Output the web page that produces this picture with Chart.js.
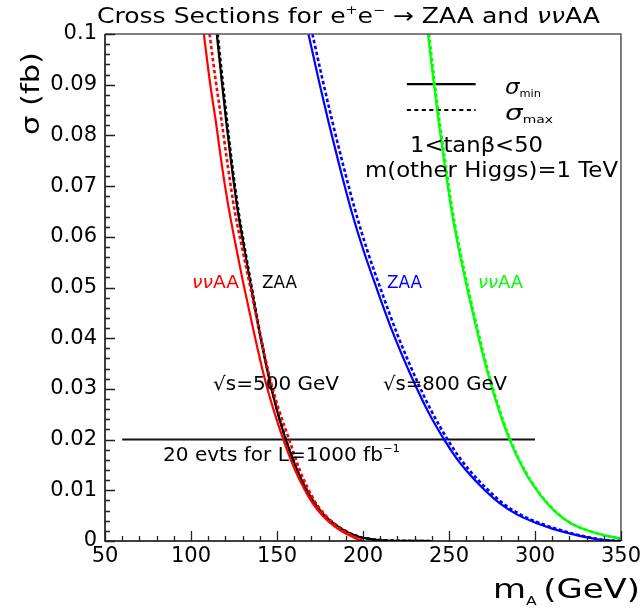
<!DOCTYPE html>
<html><head><meta charset="utf-8">
<script src="https://cdn.jsdelivr.net/npm/chart.js@4.4.0/dist/chart.umd.min.js"></script>
<style>html,body{margin:0;padding:0;background:#fff;overflow:hidden}</style>
</head><body>
<canvas id="c" width="644" height="614"></canvas>
<script>
// ---- data (m_A in GeV, sigma in fb) ----
// sqrt(s)=500 GeV
const sigmaGrid500 = [0.100, 0.091, 0.0826, 0.074, 0.0653, 0.058, 0.0515, 0.043, 0.0328, 0.026, 0.0199, 0.014, 0.0105, 0.0074, 0.0052, 0.0035, 0.0019, 0.0008, 0.0];
const massNuNu500Min = [107.5, 110.8, 114.5, 118.0, 122.1, 126.2, 130.0, 135.4, 142.3, 147.9, 153.8, 160.5, 165.5, 170.8, 175.9, 181.1, 187.6, 194.0, 199.6];
const massNuNu500Max = [110.8, 114.3, 117.9, 121.4, 125.3, 129.6, 133.6, 138.8, 145.4, 151.0, 157.2, 163.2, 167.8, 172.8, 177.8, 182.9, 189.1, 195.5, 200.0];
const sigmaZAA500 = [0.100, 0.091, 0.0826, 0.074, 0.0653, 0.058, 0.0515, 0.043, 0.0328, 0.026, 0.0199, 0.014, 0.0105, 0.0074, 0.0052, 0.0035, 0.0019, 0.00085, 0.0004, 0.00015, 0.00004, 0.0];
const massZAA500Min = [115.0, 117.8, 120.5, 123.6, 127.1, 130.8, 134.2, 138.8, 144.9, 149.8, 155.2, 161.7, 166.6, 172.0, 177.3, 182.9, 190.1, 197.5, 204.3, 212.0, 222.0, 240.0];
const massZAA500Max = [115.5, 118.3, 121.0, 124.0, 127.5, 131.1, 134.5, 139.0, 145.1, 150.0, 155.3, 161.8, 166.7, 172.1, 177.4, 183.0, 190.2, 197.6, 204.4, 212.0, 222.0, 240.0];
// sqrt(s)=800 GeV
const sigmaZAA800 = [0.100, 0.091, 0.0826, 0.074, 0.0653, 0.057, 0.0495, 0.041, 0.0318, 0.0255, 0.0199, 0.0165, 0.014, 0.0105, 0.0074, 0.0052, 0.0035, 0.0024, 0.0015, 0.0008, 0.0003, 0.0001, 0.0];
const massZAA800Min = [168.3, 174.2, 180.0, 186.3, 193.1, 200.6, 208.3, 217.5, 229.0, 237.9, 247.4, 254.0, 259.8, 269.4, 279.6, 289.7, 301.1, 310.5, 320.0, 328.8, 337.3, 344.0, 350.0];
const massZAA800Max = [170.6, 176.5, 182.3, 188.6, 195.4, 202.8, 210.5, 219.7, 231.1, 240.0, 249.4, 256.0, 261.8, 271.4, 281.5, 291.6, 303.0, 312.3, 321.6, 330.2, 338.4, 344.8, 350.0];
const sigmaNuNu800 = [0.100, 0.091, 0.0826, 0.074, 0.0653, 0.057, 0.0495, 0.041, 0.0337, 0.0255, 0.0199, 0.014, 0.0105, 0.0074, 0.0052, 0.0035, 0.0024, 0.0015, 0.0009, 0.0005];
const massNuNu800Min = [237.8, 240.9, 244.0, 247.6, 251.4, 256.0, 260.8, 266.6, 272.1, 279.3, 285.3, 293.5, 300.0, 307.1, 313.7, 320.7, 327.9, 336.0, 343.2, 350.0];
const massNuNu800Max = [238.4, 241.5, 244.6, 248.2, 252.0, 256.6, 261.4, 267.2, 272.6, 279.8, 285.8, 294.0, 300.4, 307.5, 314.0, 321.0, 328.1, 336.2, 343.3, 350.0];
// 20 events for L = 1000 fb^-1 line
const limitMass = [60, 300];
const limitSigma = [0.02, 0.02];
// legend key lines
const keyMass = [225.5, 265.5];
const keySolidSigma = [0.0901, 0.0901];
const keyDottedSigma = [0.0850, 0.0850];
// axis ticks
const xTickValues = [50, 100, 150, 200, 250, 300, 350];
const yTickValues = [0, 0.01, 0.02, 0.03, 0.04, 0.05, 0.06, 0.07, 0.08, 0.09, 0.1];

const pts = (xs, ys) => xs.map((x, i) => ({x, y: ys[i]}));
const RED = '#ff0000', BLACK = '#000000', BLUE = '#0000ff', GREEN = '#00ff00';
function curve(xs, ys, color, dotted) {
  return {
    data: pts(xs, ys), showLine: true, borderColor: color, backgroundColor: color,
    borderWidth: dotted ? 2.6 : 2.2, borderDash: dotted ? [3.5, 2.5] : [],
    pointRadius: 0, cubicInterpolationMode: 'monotone', fill: false
  };
}
const datasets = [
  curve(massZAA800Max, sigmaZAA800, BLUE, true),
  curve(massZAA800Min, sigmaZAA800, BLUE, false),
  curve(massNuNu800Max, sigmaNuNu800, GREEN, true),
  curve(massNuNu800Min, sigmaNuNu800, GREEN, false),
  curve(massNuNu500Max, sigmaGrid500, RED, true),
  curve(massNuNu500Min, sigmaGrid500, RED, false),
  curve(massZAA500Max, sigmaZAA500, BLACK, true),
  curve(massZAA500Min, sigmaZAA500, BLACK, false),
  {data: pts(limitMass, limitSigma), showLine: true, borderColor: '#111', borderWidth: 2, pointRadius: 0},
  {data: pts(keyMass, keySolidSigma), showLine: true, borderColor: '#000', borderWidth: 2.2, pointRadius: 0},
  {data: pts(keyMass, keyDottedSigma), showLine: true, borderColor: '#000', borderWidth: 2, borderDash: [4, 3.5], pointRadius: 0}
];

const FONT = '"DejaVu Sans", "Liberation Sans", sans-serif';

// draw a sequence of text runs, horizontally stretched to a target width
function runs(ctx, parts, left, baseline, targetW) {
  ctx.save();
  let total = 0;
  const ws = parts.map(p => {
    ctx.font = (p.italic ? 'italic ' : '') + p.size + 'px ' + FONT;
    const w = ctx.measureText(p.t).width;
    total += w + (p.gap || 0);
    return w;
  });
  const sx = targetW ? targetW / total : 1;
  ctx.translate(left, baseline);
  ctx.scale(sx, 1);
  ctx.textBaseline = 'alphabetic';
  ctx.textAlign = 'left';
  let x = 0;
  parts.forEach((p, i) => {
    ctx.font = (p.italic ? 'italic ' : '') + p.size + 'px ' + FONT;
    ctx.fillStyle = p.color || '#000';
    ctx.fillText(p.t, x, p.dy || 0);
    x += ws[i] + (p.gap || 0);
  });
  ctx.restore();
}

const decor = {
  id: 'decor',
  afterDatasetsDraw(chart) {
    const {ctx, chartArea: a, scales: {x, y}} = chart;
    ctx.save();
    // frame
    ctx.lineWidth = 1.5;
    ctx.strokeStyle = '#555';
    ctx.beginPath();
    ctx.moveTo(a.left, a.top); ctx.lineTo(a.right, a.top); ctx.lineTo(a.right, a.bottom);
    ctx.stroke();
    ctx.strokeStyle = '#000';
    ctx.beginPath();
    ctx.moveTo(a.left, a.top); ctx.lineTo(a.left, a.bottom); ctx.lineTo(a.right, a.bottom);
    ctx.stroke();
    // inward ticks
    ctx.lineWidth = 1.3;
    ctx.strokeStyle = '#222';
    ctx.beginPath();
    for (let k = 0; k <= 50; k++) {
      const v = k * 0.002, py = Math.round(y.getPixelForValue(v)) + 0.5;
      const len = (k % 5 === 0) ? 10 : 5;
      ctx.moveTo(a.left, py); ctx.lineTo(a.left + len, py);
    }
    for (let m = 50; m <= 350; m += 10) {
      const px = Math.round(x.getPixelForValue(m)) + 0.5;
      const len = (m % 50 === 0) ? 10 : 5;
      ctx.moveTo(px, a.bottom); ctx.lineTo(px, a.bottom - len);
    }
    ctx.stroke();
    ctx.restore();

    // title
    runs(ctx, [
      {t: 'Cross Sections for e', size: 21},
      {t: '+', size: 12, dy: -9},
      {t: 'e', size: 21},
      {t: '\u2212', size: 12, dy: -9},
      {t: ' \u2192 ZAA and ', size: 21},
      {t: '\u03bd\u03bd', size: 21, italic: true},
      {t: 'AA', size: 21}
    ], 97, 23, 503);

    // axis titles
    ctx.save();
    ctx.translate(39, 135);
    ctx.rotate(-Math.PI / 2);
    runs(ctx, [{t: '\u03c3 (fb)', size: 25}], 0, 0, 83);
    ctx.restore();
    runs(ctx, [
      {t: 'm', size: 26},
      {t: 'A', size: 12, dy: 7, gap: 5},
      {t: '(GeV)', size: 26}
    ], 493, 598, 147);

    // legend labels
    runs(ctx, [{t: '\u03c3', size: 22, italic: true}, {t: 'min', size: 11, dy: 3}], 505, 94, 36);
    runs(ctx, [{t: '\u03c3', size: 22, italic: true}, {t: 'max', size: 11, dy: 3}], 505, 120, 48);
    runs(ctx, [{t: '1<tan\u03b2<50', size: 22}], 410, 152, 133);
    runs(ctx, [{t: 'm(other Higgs)=1 TeV', size: 21}], 365, 177, 253);

    // curve labels
    runs(ctx, [{t: '\u03bd\u03bd', size: 18, italic: true, color: RED}, {t: 'AA', size: 18, color: RED}], 192, 288, 47);
    runs(ctx, [{t: 'ZAA', size: 18}], 262, 288, 35);
    runs(ctx, [{t: 'ZAA', size: 18, color: BLUE}], 387, 288, 35);
    runs(ctx, [{t: '\u03bd\u03bd', size: 18, italic: true, color: GREEN}, {t: 'AA', size: 18, color: GREEN}], 478, 288, 45);
    runs(ctx, [{t: '\u221as=500 GeV', size: 19}], 213, 390, 126);
    runs(ctx, [{t: '\u221as=800 GeV', size: 19}], 383, 390, 124);
    runs(ctx, [{t: '20 evts for L=1000 fb', size: 19}, {t: '\u22121', size: 11, dy: -9}], 163, 461, 237);
  }
};

new Chart(document.getElementById('c'), {
  type: 'scatter',
  data: {datasets},
  options: {
    responsive: false,
    animation: false,
    layout: {padding: {left: 0, right: 21, top: 34, bottom: 0}},
    plugins: {legend: {display: false}, tooltip: {enabled: false}},
    elements: {line: {tension: 0}},
    scales: {
      x: {
        type: 'linear', min: 50, max: 350,
        afterBuildTicks: s => { s.ticks = xTickValues.map(v => ({value: v})); },
        ticks: {color: '#000', font: {family: FONT, size: 21}, padding: 3, maxRotation: 0, autoSkip: false},
        grid: {display: false, drawTicks: false},
        border: {display: false},
        afterFit: s => { s.height = 73; }
      },
      y: {
        type: 'linear', min: 0, max: 0.1,
        afterBuildTicks: s => { s.ticks = yTickValues.map(v => ({value: v})); },
        ticks: {color: '#000', font: {family: FONT, size: 21}, padding: 8, autoSkip: false,
          callback: v => String(Math.round(v * 100) / 100)},
        grid: {display: false, drawTicks: false},
        border: {display: false},
        afterFit: s => { s.width = 105; }
      }
    }
  },
  plugins: [decor]
});
</script>
</body></html>
